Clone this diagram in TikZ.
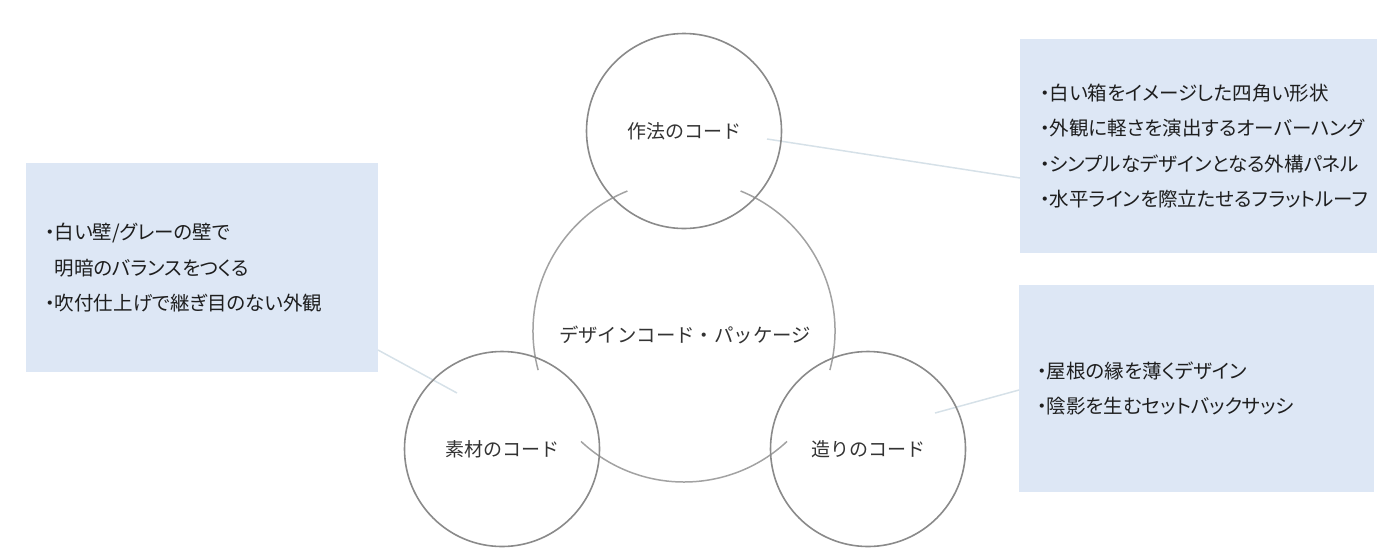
\documentclass[tikz,border=0pt]{standalone}
\usepackage{fontspec}
\newfontfamily\jpfont{Noto Sans CJK JP}
\newfontfamily\jpprop[RawFeature=+palt]{Noto Sans CJK JP}
\definecolor{boxfill}{HTML}{DDE7F5}
\definecolor{linkc}{HTML}{D6E1E8}
\definecolor{ringc}{HTML}{8A8A8A}
\definecolor{arcc}{HTML}{A2A2A2}
\definecolor{txtc}{HTML}{333333}
\definecolor{boxtxt}{HTML}{1E1E1E}
\begin{document}
\begin{tikzpicture}[x=1pt,y=1pt,
  ring/.style={circle, draw=ringc, line width=1.6pt, minimum size=195pt, inner sep=0pt,
    font=\jpfont\fontsize{19}{21}\selectfont, text=txtc},
  infobox/.style={fill=boxfill, draw=none, inner ysep=0pt, align=left, anchor=north west,
    font=\jpprop\fontsize{19.5}{35.5}\selectfont, text=boxtxt},
  link/.style={draw=linkc, line width=1.5pt},
  bigarc/.style={draw=arcc, line width=1.5pt}]
\useasboundingbox (0,-558) rectangle (1388,0);

% info boxes
\node[infobox, text width=314pt, inner xsep=19pt, minimum height=209pt] (lbox) at (26,-163)
  {・白い壁/グレーの壁で\\\hspace*{9.5pt}明暗のバランスをつくる\\・吹付仕上げで継ぎ目のない外観};
\node[infobox, text width=317pt, inner xsep=20pt, minimum height=214pt] (trbox) at (1020,-39)
  {・白い箱をイメージした四角い形状\\・外観に軽さを演出するオーバーハング\\・シンプルなデザインとなる外構パネル\\・水平ラインを際立たせるフラットルーフ};
\node[infobox, text width=319pt, inner xsep=18pt, minimum height=207pt] (brbox) at (1019,-285)
  {・屋根の縁を薄くデザイン\\・陰影を生むセットバックサッシ};

% connectors
\coordinate (t1) at (767,-139);
\coordinate (t2) at (1020,-178);
\coordinate (l1) at (378,-350);
\coordinate (l2) at (457,-393);
\coordinate (r1) at (935,-413);
\coordinate (r2) at (1019,-390);
\draw[link] (t1) -- (t2);
\draw[link] (l1) -- (l2);
\draw[link] (r1) -- (r2);

% big circle drawn as three arcs
\coordinate (pc) at (684,-331);
\draw[bigarc] ([shift={(112:151)}]pc) arc[start angle=112, end angle=195, radius=151];
\draw[bigarc] ([shift={(227:151)}]pc) arc[start angle=227, end angle=313, radius=151];
\draw[bigarc] ([shift={(-15:151)}]pc) arc[start angle=-15, end angle=68, radius=151];
\node[font=\jpfont\fontsize{19.4}{21}\selectfont, text=txtc] (pkg) at (685,-335) {デザインコード・パッケージ};

% small circles
\node[ring] (saho) at (684,-131) {作法のコード};
\node[ring] (sozai) at (502,-449) {素材のコード};
\node[ring] (tsukuri) at (868,-449) {造りのコード};
\end{tikzpicture}
\end{document}
